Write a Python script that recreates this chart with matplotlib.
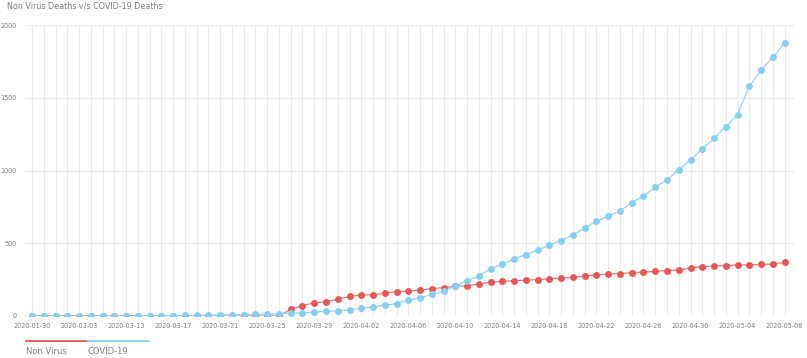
import matplotlib
matplotlib.use("Agg")
import matplotlib.pyplot as plt
from matplotlib.lines import Line2D

dates = ["2020-01-30", "2020-02-02", "2020-02-03", "2020-03-02", "2020-03-03",
         "2020-03-04", "2020-03-07", "2020-03-10",
         "2020-03-13", "2020-03-14", "2020-03-15", "2020-03-16", "2020-03-17",
         "2020-03-18", "2020-03-19", "2020-03-20", "2020-03-21", "2020-03-22",
         "2020-03-23", "2020-03-24", "2020-03-25", "2020-03-26", "2020-03-27",
         "2020-03-28", "2020-03-29", "2020-03-30", "2020-03-31", "2020-04-01",
         "2020-04-02", "2020-04-03", "2020-04-04", "2020-04-05", "2020-04-06",
         "2020-04-07", "2020-04-08", "2020-04-09", "2020-04-10", "2020-04-11",
         "2020-04-12", "2020-04-13", "2020-04-14", "2020-04-15", "2020-04-16",
         "2020-04-17", "2020-04-18", "2020-04-19", "2020-04-20", "2020-04-21",
         "2020-04-22", "2020-04-23", "2020-04-24", "2020-04-25", "2020-04-26",
         "2020-04-27", "2020-04-28", "2020-04-29", "2020-04-30", "2020-05-01",
         "2020-05-02", "2020-05-03", "2020-05-04", "2020-05-05", "2020-05-06",
         "2020-05-07", "2020-05-08"]

non_virus = [0, 0, 0, 0, 0, 0, 0, 0, 0, 0, 0, 0, 0, 0, 0, 0, 0, 0, 0, 0, 0, 0,
             46, 71, 91, 98, 115, 135, 144, 146, 156, 167, 172, 179, 188, 195,
             204, 208, 220, 232, 238, 243, 247, 250, 256, 261, 266, 275, 282,
             289, 291, 298, 302, 307, 312, 316, 330, 339, 344, 346, 351, 351,
             355, 357, 369]

covid = [0, 0, 0, 0, 0, 0, 0, 0, 1, 2, 2, 3, 3, 4, 4, 5, 7, 8, 10, 12, 12,
         16, 19, 21, 27, 32, 34, 41, 53, 62, 76, 85, 110, 124, 149, 170, 206,
         243, 275, 325, 355, 394, 421, 454, 488, 518, 559, 603, 653, 684, 723,
         777, 825, 885, 935, 1005, 1072, 1149, 1220, 1302, 1384, 1579, 1689,
         1778, 1878]

series_names = ["Non Virus", "COVID-19"]
y_ticks = [0, 500, 1000, 1500, 2000]

RED = "#e85656"
BLUE = "#86cff0"
TXT = "#808080"
GRID = "#ebebeb"

plt.rcParams["font.family"] = ["DejaVu Sans"]

fig = plt.figure(figsize=(8.07, 3.58), dpi=100)
ax = fig.add_axes([25 / 807, 1 - 316 / 358, (794 - 25) / 807, (316 - 25) / 358])

x = list(range(len(dates)))
ax.plot(x, non_virus, color=RED, lw=0.9, alpha=0.8, zorder=2)
ax.plot(x, non_virus, ls="none", marker="o", ms=5.0, mfc=RED, mec=RED, mew=0, zorder=3)
ax.plot(x, covid, color=BLUE, lw=0.9, alpha=0.9, zorder=4)
ax.plot(x, covid, ls="none", marker="o", ms=5.0, mfc=BLUE, mec=BLUE, mew=0, zorder=5)

ax.set_xlim(-0.6, len(dates) - 1 + 0.8)
ax.set_ylim(0, 2000)
ax.set_yticks(y_ticks)
ax.set_yticklabels([str(v) for v in y_ticks])

ax.set_xticks(x, minor=True)
ax.set_xticks(x[::4])
ax.set_xticklabels(dates[::4])
ax.grid(True, which="both", axis="x", color=GRID, lw=0.8, zorder=0)
ax.grid(True, which="major", axis="y", color=GRID, lw=0.8, zorder=0)
ax.set_axisbelow(True)

for s in ax.spines.values():
    s.set_visible(False)
ax.tick_params(axis="both", which="both", length=0, labelsize=4.7, colors=TXT)
ax.tick_params(axis="x", pad=5)
ax.tick_params(axis="y", pad=6)

fig.text(7 / 807, 1 - 6 / 358, "Non Virus Deaths v/s COVID-19 Deaths",
         fontsize=5.8, color=TXT, ha="left", va="center")

# legend (tab style)
fig.add_artist(Line2D([26 / 807, 88 / 807], [1 - 341 / 358, 1 - 341 / 358],
                      color=RED, lw=1.3, transform=fig.transFigure))
fig.add_artist(Line2D([88 / 807, 149 / 807], [1 - 341 / 358, 1 - 341 / 358],
                      color=BLUE, lw=1.3, transform=fig.transFigure))
fig.text(26 / 807, 1 - 351 / 358, series_names[0], fontsize=6.0, color=TXT,
         ha="left", va="center")
fig.text(88 / 807, 1 - 351 / 358, series_names[1], fontsize=6.0, color=TXT,
         ha="left", va="center")

fig.savefig("out.png", dpi=100)
